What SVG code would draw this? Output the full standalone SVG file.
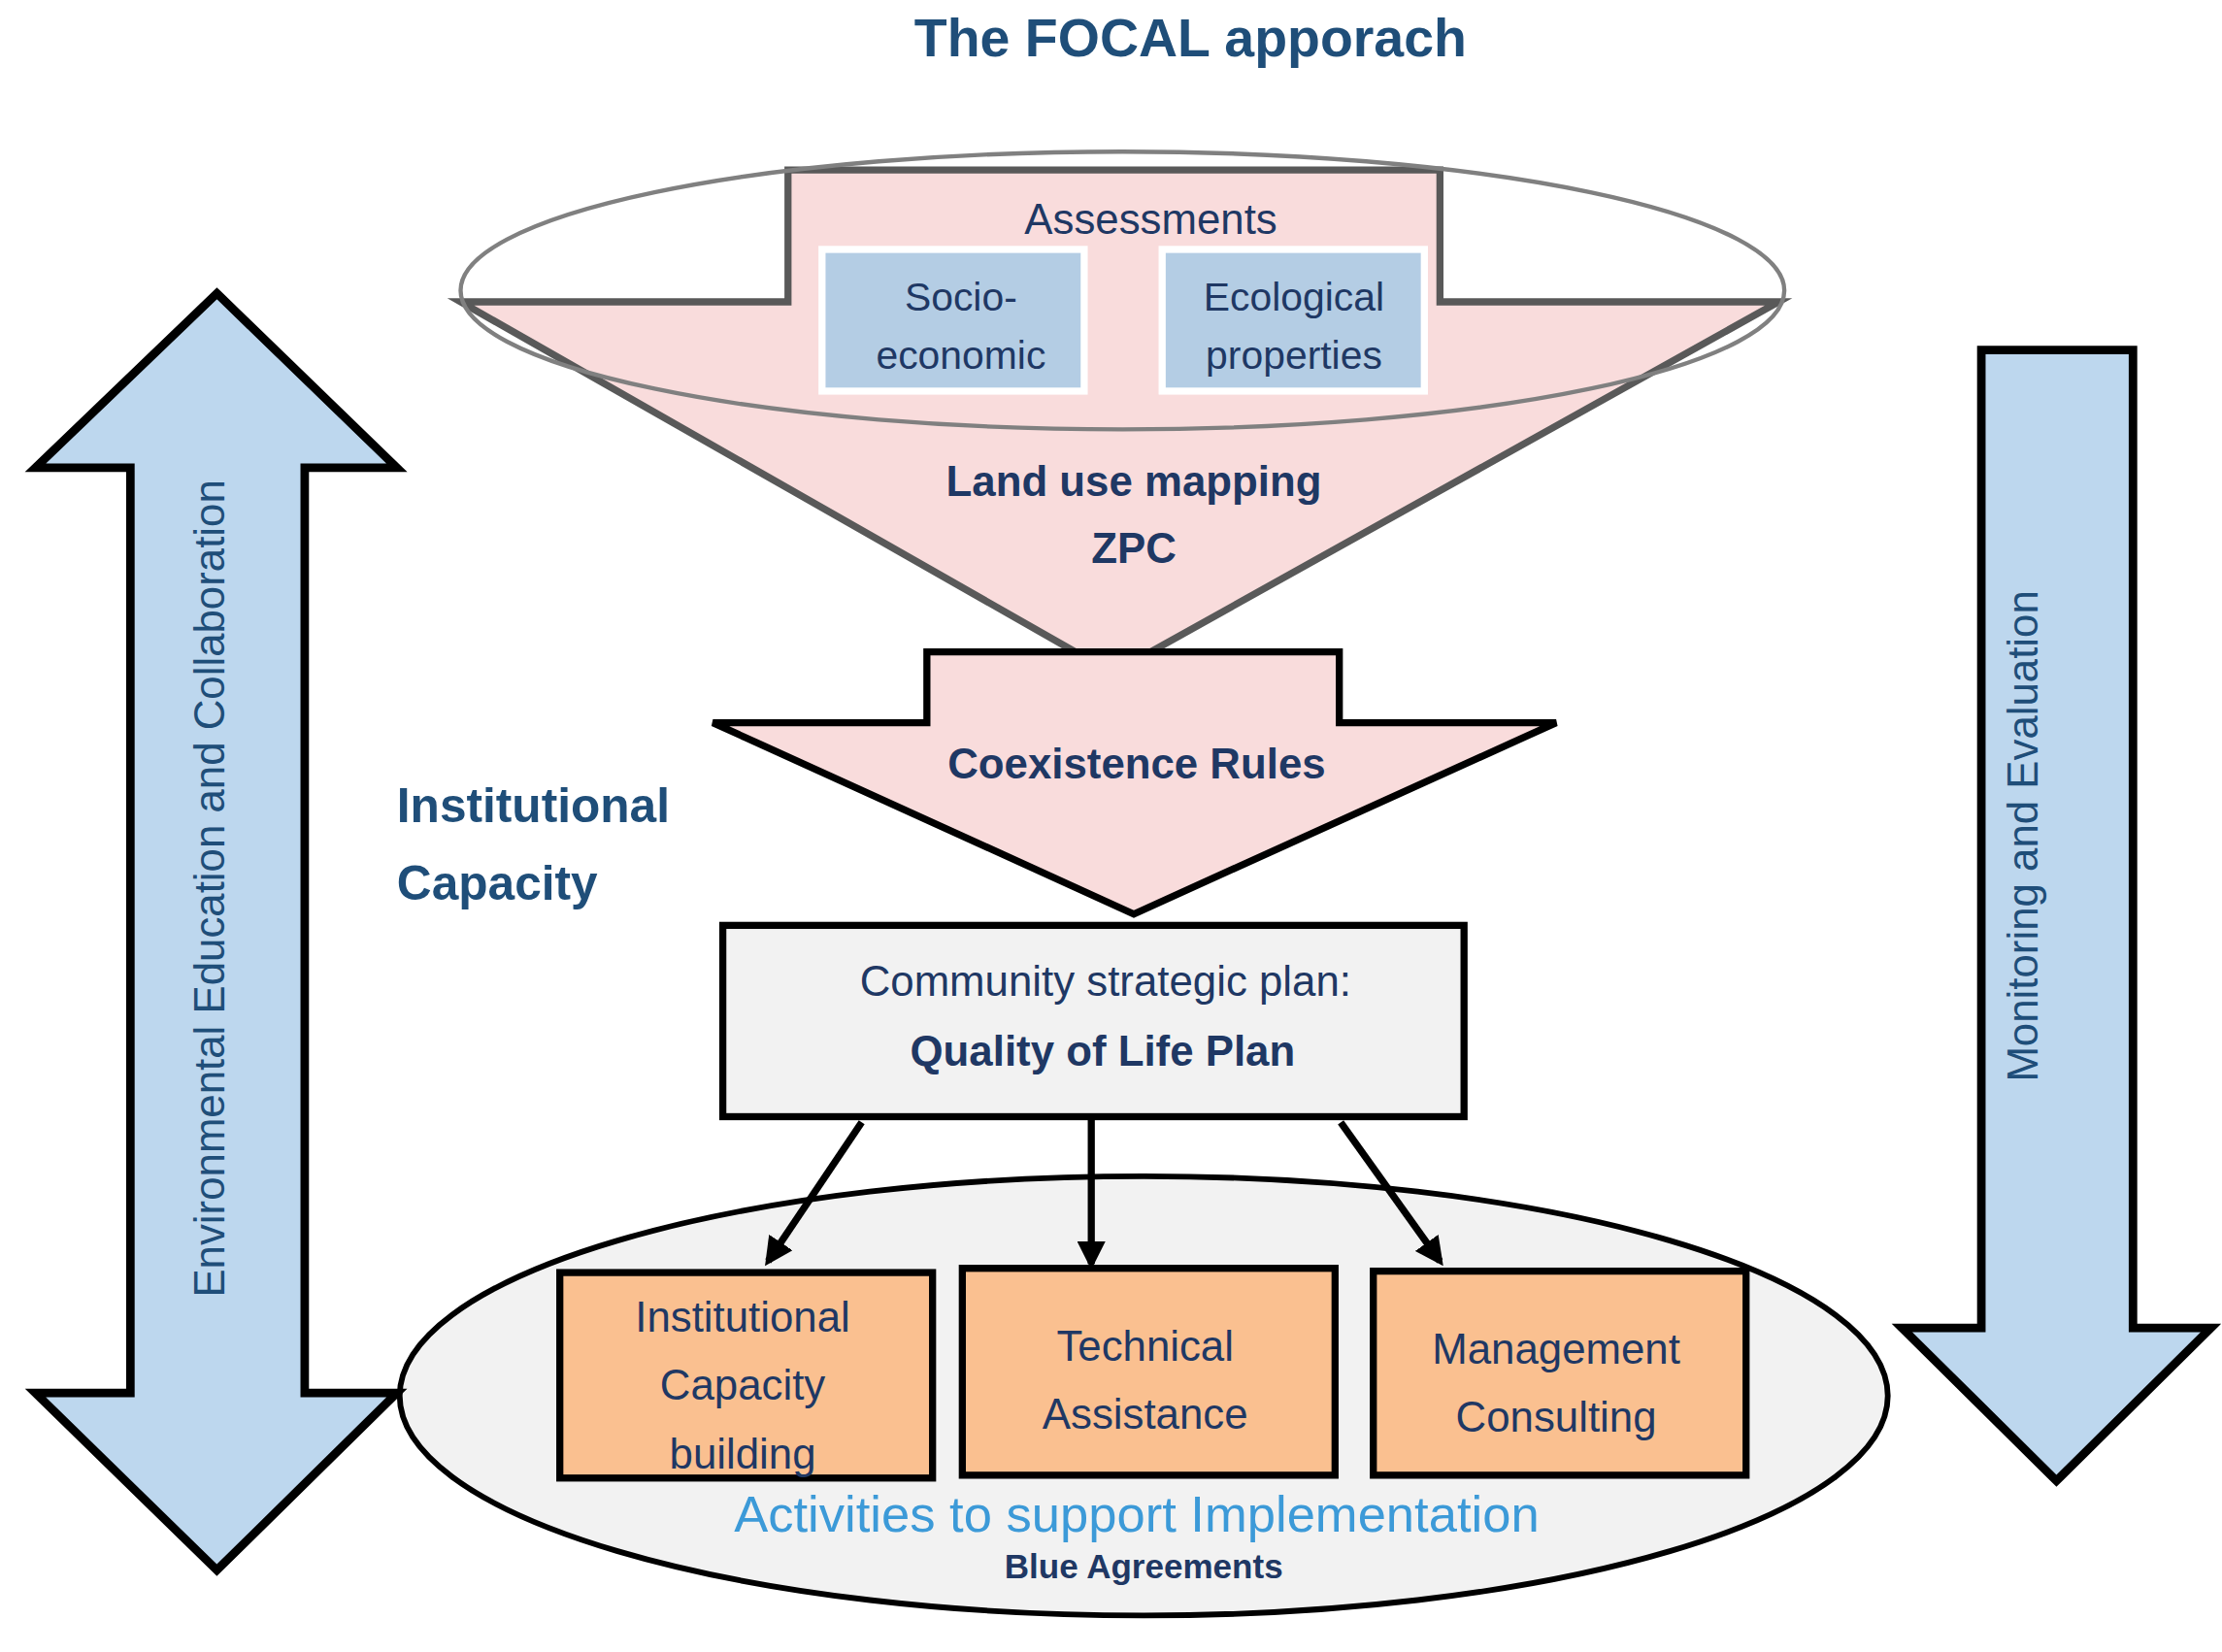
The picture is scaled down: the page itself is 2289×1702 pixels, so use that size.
<svg xmlns="http://www.w3.org/2000/svg" width="2289" height="1702" viewBox="0 0 2289 1702">
<style>
text{font-family:"Liberation Sans",Arial,sans-serif;text-anchor:middle;fill:#1f3864}
.b{font-weight:bold}
.big{font-size:30px}
.st{stroke:#000;stroke-width:5}
.or{fill:#fac090;stroke:#000;stroke-width:5}
.bl{fill:#b4cde4;stroke:#fff;stroke-width:5}
</style>
<defs><marker id="ah" viewBox="0 0 10 10" refX="8" refY="5" markerWidth="4" markerHeight="4" orient="auto"><path d="M0,0L10,5L0,10z" fill="#000"/></marker></defs>
<rect width="2289" height="1702" fill="#fff"/>
<g transform="scale(1.46)">
<text x="840" y="40" class="b" style="font-size:38px;fill:#1f4e79">The FOCAL apporach</text>
<g id="assess">
<polygon points="556,120 1016,120 1016,213 1255,213 785,475 325,213 556,213" fill="#f9dcdc" stroke="#595959" stroke-width="5"/>
<ellipse cx="792" cy="205" rx="467" ry="98" fill="none" stroke="#808080" stroke-width="3"/>
<text x="812" y="165" class="big">Assessments</text>
<text x="800" y="350" class="b big">Land use mapping</text>
<text x="800" y="397" class="b big">ZPC</text>
</g>
<g id="socio"><rect x="580" y="176" width="185" height="100" class="bl"/><text x="678" y="219" style="font-size:28px">Socio-</text><text x="678" y="260" style="font-size:28px">economic</text></g>
<g id="eco"><rect x="820" y="176" width="185" height="100" class="bl"/><text x="913" y="219" style="font-size:28px">Ecological</text><text x="913" y="260" style="font-size:28px">properties</text></g>
<g id="coex"><polygon points="654,460 945,460 945,510 1098,510 800,645 503,510 654,510" fill="#f9dcdc" class="st"/><text x="802" y="549" class="b big">Coexistence Rules</text></g>
<g id="inst"><text x="280" y="580" class="b" style="font-size:34px;fill:#1f4e79;text-anchor:start">Institutional</text><text x="280" y="635" class="b" style="font-size:34px;fill:#1f4e79;text-anchor:start">Capacity</text></g>
<g id="plan"><rect x="510" y="653" width="523" height="135" fill="#f2f2f2" class="st"/><text x="780" y="703" class="big">Community strategic plan:</text><text x="778" y="752" class="b big">Quality of Life Plan</text></g>
<g id="activities"><ellipse cx="807" cy="985" rx="525" ry="155" fill="#f2f2f2" stroke="#000" stroke-width="4"/>
<text x="802" y="1081" style="font-size:36px;fill:#3c9ad8">Activities to support Implementation</text>
<text x="807" y="1114" class="b" style="font-size:24px">Blue Agreements</text></g>
<g id="icb"><rect x="395" y="898" width="263" height="145" class="or"/><text x="524" y="940" class="big">Institutional</text><text x="524" y="988" class="big">Capacity</text><text x="524" y="1036" class="big">building</text></g>
<g id="ta"><rect x="679" y="895" width="263" height="146" class="or"/><text x="808" y="960" class="big">Technical</text><text x="808" y="1008" class="big">Assistance</text></g>
<g id="mc"><rect x="969" y="897" width="263" height="144" class="or"/><text x="1098" y="962" class="big">Management</text><text x="1098" y="1010" class="big">Consulting</text></g>
<g id="connectors" stroke="#000" stroke-width="5" marker-end="url(#ah)">
<line x1="608" y1="792" x2="542" y2="890"/><line x1="770" y1="790" x2="770" y2="892"/><line x1="946" y1="792" x2="1016" y2="890"/></g>
<g id="envarrow"><polygon points="153,207 280,330 215,330 215,983 280,983 153,1108 25,983 92,983 92,330 25,330" fill="#bdd7ee" stroke="#000" stroke-width="6"/>
<text transform="translate(158,627) rotate(-90)" style="font-size:30px;fill:#1f4e79">Environmental Education and Collaboration</text></g>
<g id="monarrow"><polygon points="1398,247 1505,247 1505,937 1560,937 1451,1045 1342,937 1398,937" fill="#bdd7ee" stroke="#000" stroke-width="6"/>
<text transform="translate(1438,590) rotate(-90)" style="font-size:30px;fill:#1f4e79">Monitoring and Evaluation</text></g>
</g>
</svg>
